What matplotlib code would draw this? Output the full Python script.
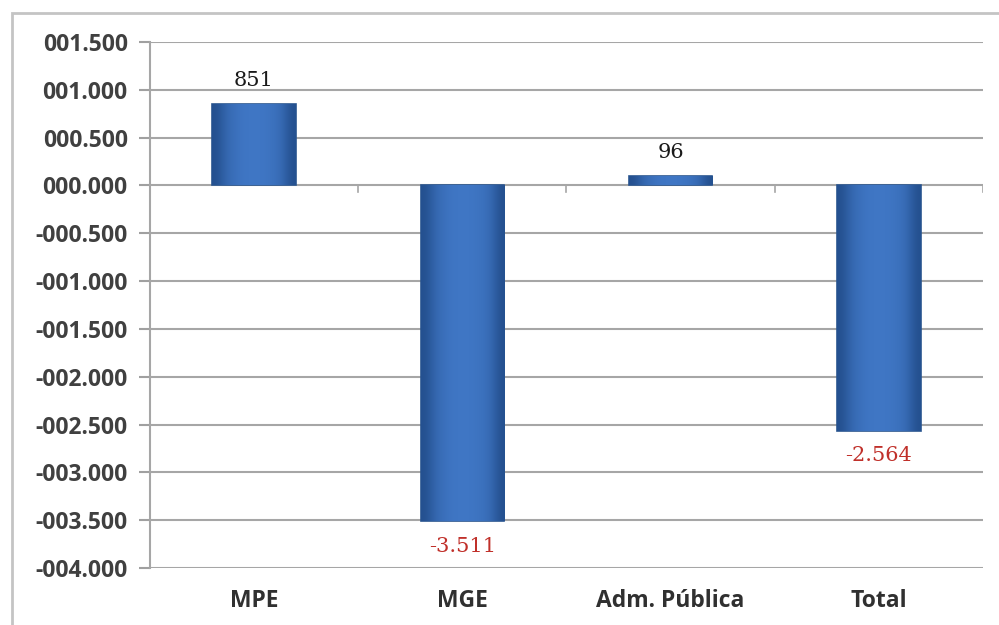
import matplotlib.pyplot as plt
from matplotlib.patches import Rectangle
from matplotlib.colors import LinearSegmentedColormap
import numpy as np

categories = ["MPE", "MGE", "Adm. Pública", "Total"]
values = [851, -3511, 96, -2564]
value_labels = ["851", "-3.511", "96", "-2.564"]
y_ticks = list(range(-4000, 1501, 500))


def fmt_tick(v):
    sign = "-" if v < 0 else ""
    v = abs(v)
    return "%s%03d.%03d" % (sign, v // 1000, v % 1000)


fig = plt.figure(figsize=(9.99, 6.25), dpi=100)
ax = fig.add_axes([0.150, 0.0912, 0.834, 0.8416])

x = np.arange(len(categories))
bars = ax.bar(x, values, width=0.4, color="#3A6FC0", edgecolor="#2B568F", linewidth=1.2, zorder=3)

# horizontal shading on each bar (bevel look)
grad = np.array([[0.0, 0.6, 0.85, 1.0, 1.0, 1.0, 0.9, 0.7, 0.0]])
cmap = LinearSegmentedColormap.from_list("b", ["#24508F", "#3F76C4"])
for b in bars:
    x0, y0 = b.get_x(), b.get_y()
    w, h = b.get_width(), b.get_height()
    im = ax.imshow(grad, extent=[x0, x0 + w, y0, y0 + h], aspect="auto",
                   cmap=cmap, zorder=3.5, interpolation="bicubic")
    im.set_clip_path(b)

for xi, v, lab in zip(x, values, value_labels):
    if v >= 0:
        ax.annotate(lab, (xi, v), xytext=(0, 10), textcoords="offset points",
                    ha="center", va="bottom", fontsize=15, color="#1a1a1a",
                    family="DejaVu Serif")
    else:
        ax.annotate(lab, (xi, v), xytext=(0, -11), textcoords="offset points",
                    ha="center", va="top", fontsize=15, color="#C0302A",
                    family="DejaVu Serif")

ax.set_xlim(-0.5, len(categories) - 0.5)
ax.set_ylim(-4000, 1500)
ax.set_yticks(y_ticks)
ax.set_yticklabels([fmt_tick(t) for t in y_ticks], fontsize=16.5, fontweight="bold",
                   color="#404040", family="Open Sans")
ax.set_xticks(x)
ax.set_xticklabels(categories, fontsize=16.5, fontweight="bold", color="#303030",
                   family="Open Sans")
ax.tick_params(axis="x", length=0, pad=15)
ax.tick_params(axis="y", length=8, color="#a0a0a0", width=1.5, pad=8)

ax.grid(axis="y", color="#a6a6a6", linewidth=1.5, zorder=1)
for s in ["top", "right", "bottom"]:
    ax.spines[s].set_visible(False)
ax.spines["left"].set_color("#a6a6a6")
ax.spines["left"].set_linewidth(1.5)

# small category separator ticks on the zero line
for xb in np.arange(0.5, len(categories), 1.0):
    ax.plot([xb, xb], [0, -70], color="#a6a6a6", linewidth=1.2, zorder=2)

# outer frame
fig.patches.append(Rectangle((12 / 999, -0.05), 1.2, 1 - 13 / 625 + 0.05,
                             transform=fig.transFigure, fill=False,
                             edgecolor="#c4c4c4", linewidth=2))

fig.savefig("out.png", dpi=100)
